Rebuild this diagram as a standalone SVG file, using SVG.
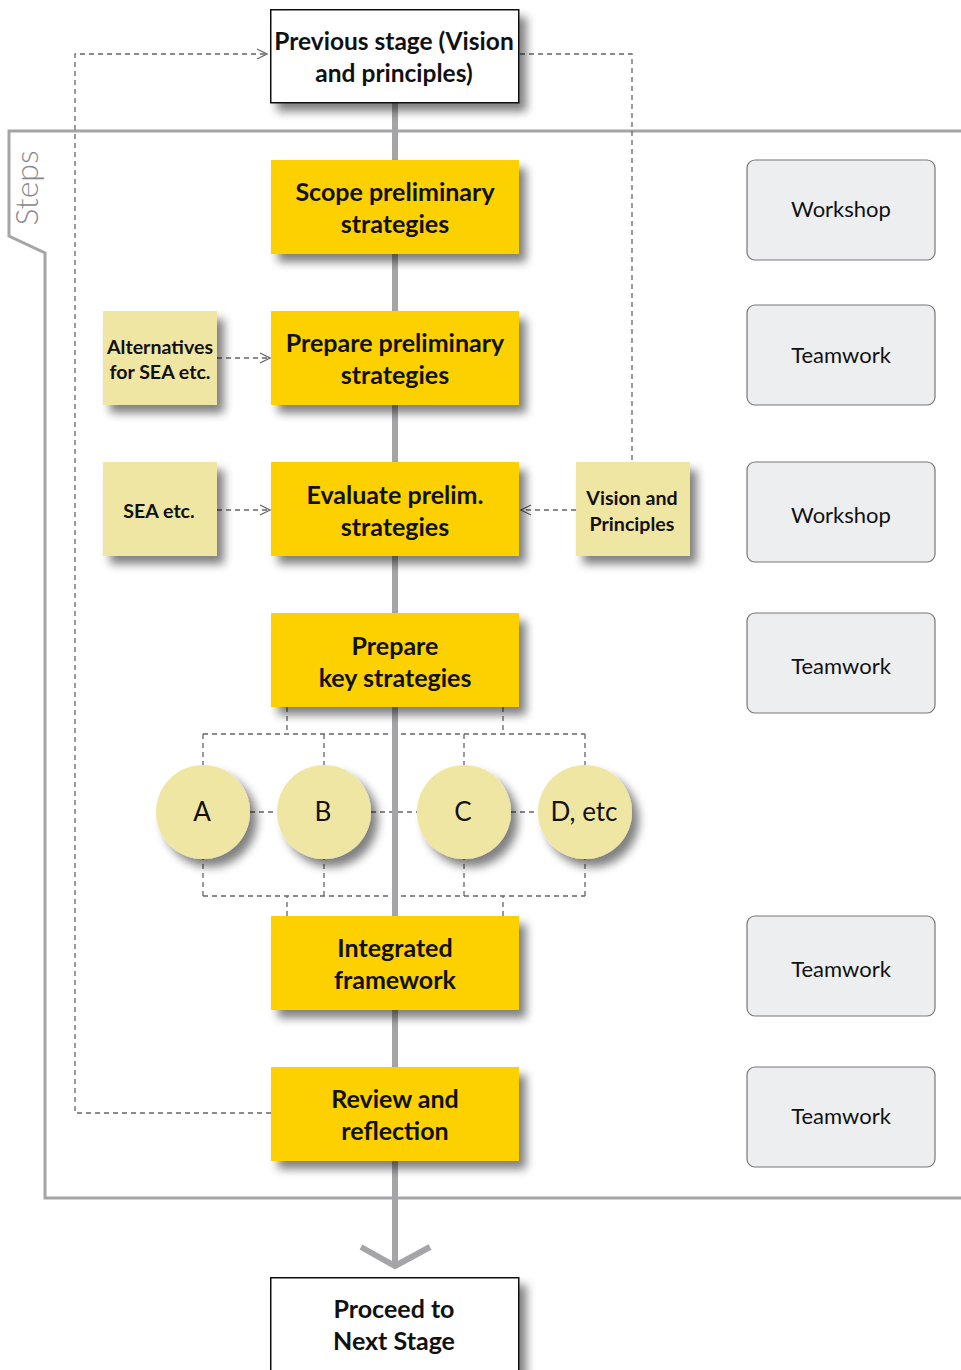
<svg xmlns="http://www.w3.org/2000/svg" width="961" height="1370" viewBox="0 0 961 1370">
<defs>
<style>
.bt{font-family:Lato,"Open Sans","Liberation Sans",sans-serif;font-weight:bold;font-size:25px;fill:#111;text-anchor:middle}
.nt{font-family:Lato,"Open Sans","Liberation Sans",sans-serif;font-weight:bold;font-size:19.6px;fill:#111;text-anchor:middle}
.gt{font-family:Lato,"Open Sans","Liberation Sans",sans-serif;font-size:22px;fill:#111;text-anchor:middle}
.ct{font-family:Lato,"Open Sans","Liberation Sans",sans-serif;font-size:26px;fill:#111;text-anchor:middle}
.y{fill:#FDD000}
.n{fill:#F0E6A4}
.w{fill:#fff;stroke:#111;stroke-width:1.5}
.g{fill:#EDEEF0;stroke:#777;stroke-width:1.2}
.d{fill:none;stroke:#666;stroke-width:1.3;stroke-dasharray:5 4}
</style>
<filter id="sh" x="-20%" y="-20%" width="150%" height="160%">
<feGaussianBlur in="SourceAlpha" stdDeviation="5"/>
<feOffset dx="7" dy="8" result="b"/>
<feComponentTransfer><feFuncA type="linear" slope="0.5"/></feComponentTransfer>
<feMerge><feMergeNode/><feMergeNode in="SourceGraphic"/></feMerge>
</filter>
<marker id="oa" viewBox="0 0 12 12" refX="11" refY="6" markerWidth="12" markerHeight="12" markerUnits="userSpaceOnUse" orient="auto">
<path d="M1,1 L11,6 L1,11" fill="none" stroke="#666" stroke-width="1.2"/>
</marker>
</defs>
<rect width="961" height="1370" fill="#fff"/>

<g id="frame">
<path d="M961,131 L9,131 L9,236 L45,253 L45,1198 L961,1198" fill="none" stroke="#a5a5a7" stroke-width="3"/>
<text x="0" y="0" transform="translate(38,188) rotate(-90)" font-family="Lato,'Open Sans','Liberation Sans',sans-serif" font-weight="300" font-size="32" fill="#888" text-anchor="middle">Steps</text>
</g>

<g id="connectors">
<path class="d" d="M287,707 V734 M503,707 V734 M203,734 H585 M203,734 V766 M324,734 V766 M464,734 V766 M585,734 V766"/>
<path class="d" d="M287,916 V896 M503,916 V896 M203,896 H585 M203,896 V858 M324,896 V858 M464,896 V858 M585,896 V858"/>
<path class="d" d="M250,812 H277 M371,812 H417 M511,812 H538"/>
<path class="d" d="M271,1113 H75 V54 H267" marker-end="url(#oa)"/>
<path class="d" d="M520,54 H632 V462"/>
<path class="d" d="M576,510 H521" marker-end="url(#oa)"/>
<path class="d" d="M217,358 H270" marker-end="url(#oa)"/>
<path class="d" d="M217,510 H270" marker-end="url(#oa)"/>
<path d="M395,102 V1264" stroke="#a5a5a7" stroke-width="6" fill="none"/>
<path d="M361,1247 L395,1266 L430,1247" stroke="#a5a5a7" stroke-width="6" fill="none"/>
</g>

<g id="prev">
<rect class="w" x="270.75" y="9.75" width="248" height="93" filter="url(#sh)"/>
<text class="bt" x="394" y="50" font-size="24.5" style="font-size:24.5px">Previous stage (Vision</text>
<text class="bt" x="394" y="82" style="font-size:24.5px">and principles)</text>
</g>

<g id="scope">
<rect class="y" x="271" y="160" width="248" height="94" filter="url(#sh)"/>
<text class="bt" x="395" y="201">Scope preliminary</text>
<text class="bt" x="395" y="233">strategies</text>
</g>
<g id="prepare-prelim">
<rect class="y" x="271" y="311" width="248" height="94" filter="url(#sh)"/>
<text class="bt" x="395" y="352">Prepare preliminary</text>
<text class="bt" x="395" y="384">strategies</text>
</g>
<g id="evaluate">
<rect class="y" x="271" y="462" width="248" height="94" filter="url(#sh)"/>
<text class="bt" x="395" y="504">Evaluate prelim.</text>
<text class="bt" x="395" y="536">strategies</text>
</g>
<g id="prepare-key">
<rect class="y" x="271" y="613" width="248" height="94" filter="url(#sh)"/>
<text class="bt" x="395" y="655">Prepare</text>
<text class="bt" x="395" y="687">key strategies</text>
</g>
<g id="integrated">
<rect class="y" x="271" y="916" width="248" height="94" filter="url(#sh)"/>
<text class="bt" x="395" y="957">Integrated</text>
<text class="bt" x="395" y="989">framework</text>
</g>
<g id="review">
<rect class="y" x="271" y="1067" width="248" height="94" filter="url(#sh)"/>
<text class="bt" x="395" y="1108">Review and</text>
<text class="bt" x="395" y="1140">reflection</text>
</g>
<g id="proceed">
<rect class="w" x="270.75" y="1277.75" width="248" height="100" filter="url(#sh)"/>
<text class="bt" x="394" y="1318">Proceed to</text>
<text class="bt" x="394" y="1350">Next Stage</text>
</g>

<g id="alternatives">
<rect class="n" x="103" y="311" width="114" height="94" filter="url(#sh)"/>
<text class="nt" x="160" y="354">Alternatives</text>
<text class="nt" x="160" y="379">for SEA etc.</text>
</g>
<g id="sea">
<rect class="n" x="103" y="462" width="114" height="94" filter="url(#sh)"/>
<text class="nt" x="159" y="518">SEA etc.</text>
</g>
<g id="vision">
<rect class="n" x="576" y="462" width="114" height="94" filter="url(#sh)"/>
<text class="nt" x="632" y="505">Vision and</text>
<text class="nt" x="632" y="531">Principles</text>
</g>

<g id="circle-a"><circle class="n" cx="203" cy="812" r="47" filter="url(#sh)"/><text class="ct" x="202" y="821">A</text></g>
<g id="circle-b"><circle class="n" cx="324" cy="812" r="47" filter="url(#sh)"/><text class="ct" x="323" y="821">B</text></g>
<g id="circle-c"><circle class="n" cx="464" cy="812" r="47" filter="url(#sh)"/><text class="ct" x="463" y="821">C</text></g>
<g id="circle-d"><circle class="n" cx="585" cy="812" r="47" filter="url(#sh)"/><text class="ct" x="584" y="821">D, etc</text></g>

<g id="mode-1"><rect class="g" x="747" y="160" width="188" height="100" rx="8"/><text class="gt" x="841" y="217">Workshop</text></g>
<g id="mode-2"><rect class="g" x="747" y="305" width="188" height="100" rx="8"/><text class="gt" x="841" y="363">Teamwork</text></g>
<g id="mode-3"><rect class="g" x="747" y="462" width="188" height="100" rx="8"/><text class="gt" x="841" y="523">Workshop</text></g>
<g id="mode-4"><rect class="g" x="747" y="613" width="188" height="100" rx="8"/><text class="gt" x="841" y="674">Teamwork</text></g>
<g id="mode-5"><rect class="g" x="747" y="916" width="188" height="100" rx="8"/><text class="gt" x="841" y="977">Teamwork</text></g>
<g id="mode-6"><rect class="g" x="747" y="1067" width="188" height="100" rx="8"/><text class="gt" x="841" y="1124">Teamwork</text></g>
</svg>
